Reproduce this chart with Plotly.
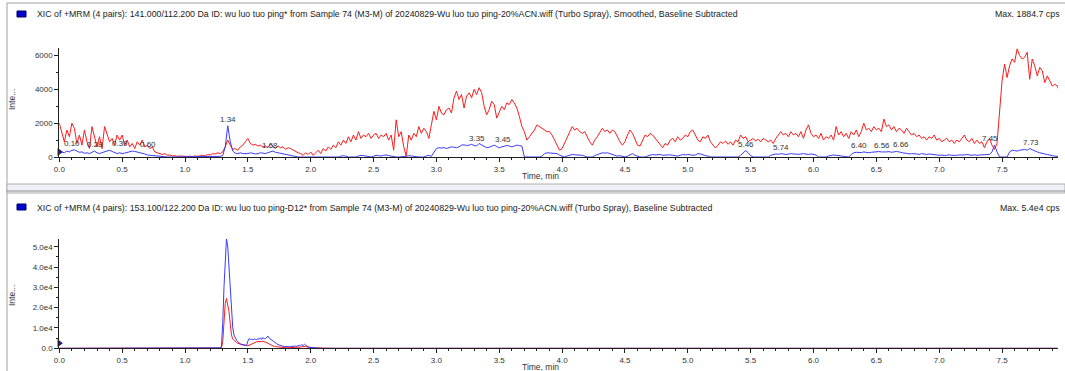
import plotly.graph_objects as go

W, H = 1065, 371

# ---------------- data: top panel (141.000/112.200), sampled every 0.02 min from 0.00 ----------------
STEP = 0.02
TOP_RED = [
    2000, 1500, 900, 1600, 1200, 2000, 1700, 800, 1300, 700, 1600, 900, 500, 1800, 1100, 600, 1200, 500, 1800, 1400, 900, 1100, 700, 1300, 1000,
    1300, 700, 1000, 600, 800, 500, 900, 700, 1000, 600, 700, 500, 600, 300, 250, 200, 150, 200, 100, 120, 60, 80, 40, 60, 30,
    40, 20, 50, 30, 60, 40, 80, 100, 60, 150, 120, 200, 180, 250, 200, 300, 600, 1000, 700, 450, 500, 400, 600, 700, 900,
    1100, 800, 700, 750, 650, 700, 600, 650, 550, 800, 600, 500, 650, 550, 600, 450, 550, 500, 400, 350, 250, 200, 100, 250, 150,
    300, 100, 250, 400, 200, 500, 350, 600, 450, 700, 550, 900, 700, 1000, 800, 1200, 900, 1300, 1000, 1500, 1100, 1300, 1200, 1400, 1100,
    1300, 1400, 1100, 1300, 1200, 1400, 1000, 1300, 400, 2200, 1200, 1500, 600, 50, 1300, 1000, 1400, 1200, 1800, 1400, 1700, 1500, 1100, 1900, 2700,
    2200, 3000, 2600, 2500, 2800, 2900, 2600, 3500, 3900, 3400, 3700, 2900, 3600, 3800, 3500, 4000, 3700, 4100, 3800, 3000, 2500, 2800, 3300, 3100, 2300,
    2700, 3000, 2800, 3200, 3100, 3400, 3200, 2900, 2400, 1800, 1500, 1000, 1200, 1400, 1600, 1900, 1800, 1700, 1600, 1500, 1500, 1300, 1000, 700, 400,
    500, 800, 1200, 1500, 1800, 1600, 1700, 1500, 1400, 1500, 1200, 900, 700, 1000, 1200, 1500, 1700, 1500, 1600, 1400, 1600, 1500, 1200, 900, 700,
    900, 1300, 1600, 1400, 1000, 700, 650, 1000, 1300, 1200, 1400, 1300, 1100, 900, 700, 550, 800, 700, 1000, 1100, 900, 1200, 1000, 1100, 1300,
    1200, 1500, 1600, 1300, 1000, 900, 1200, 1100, 1300, 900, 700, 530, 700, 900, 800, 950, 750, 900, 700, 1000, 900, 1300, 1100, 1200, 900,
    1000, 1100, 950, 1050, 900, 1100, 1000, 900, 1000, 800, 1100, 1300, 1500, 1300, 1400, 1200, 1500, 1300, 1400, 1200, 1500, 1100, 1600, 1900, 1400,
    1200, 1300, 1100, 1400, 1000, 1200, 1100, 1300, 1000, 1800, 1300, 1500, 1200, 1400, 1100, 1500, 1300, 1600, 1200, 1500, 2000, 1600, 1700, 1500, 1800,
    1600, 1700, 1500, 2250, 1800, 1900, 1600, 1800, 1500, 1700, 1600, 1400, 1700, 1500, 1300, 1400, 1200, 1300, 1100, 1200, 1000, 1200, 1100, 1300, 1000,
    1100, 900, 1000, 1100, 900, 1000, 800, 1000, 900, 1100, 1300, 1000, 900, 1100, 800, 1000, 800, 900, 550, 900, 1100, 700, 450, 800, 2700,
    4500, 5500, 4700, 5400, 5800, 5600, 6400, 6000, 5800, 5900, 6200, 4600, 5800, 5400, 4800, 5300, 5100, 4400, 4800, 4500, 4200, 4300, 4200, 3800,
]
TOP_BLUE = [
    450, 300, 250, 350, 300, 400, 420, 350, 280, 300, 220, 250, 200, 280, 350, 250, 200, 260, 300, 350, 400, 330, 250, 200, 250,
    200, 230, 280, 300, 350, 330, 300, 250, 200, 180, 120, 100, 80, 60, 40, 20, 10, 0, 0, 0, 0, 0, 0, 0, 0,
    0, 0, 0, 0, 0, 0, 0, 0, 0, 0, 0, 0, 0, 20, 40, 80, 600, 1850, 900, 350, 220, 200, 250, 200, 180,
    200, 250, 220, 180, 200, 250, 230, 200, 260, 300, 350, 280, 250, 200, 150, 120, 100, 60, 40, 20, 0, 0, 0, 0, 0,
    0, 0, 0, 0, 0, 0, 20, 40, 0, 0, 0, 0, 50, 80, 50, 0, 0, 0, 0, 60, 100, 80, 40, 0, 0,
    50, 100, 80, 60, 100, 120, 80, 40, 0, 0, 0, 0, 0, 40, 80, 60, 0, 0, 0, 0, 0, 60, 100, 40, 300,
    500, 550, 530, 560, 500, 550, 600, 580, 550, 600, 700, 720, 680, 700, 750, 680, 650, 800, 700, 600, 550, 580, 650, 700, 620,
    550, 600, 620, 680, 650, 600, 650, 700, 680, 650, 0, 0, 0, 0, 0, 0, 0, 50, 200, 250, 230, 250, 220, 200, 100,
    50, 0, 60, 100, 150, 130, 120, 150, 100, 50, 0, 0, 0, 80, 150, 200, 250, 230, 250, 200, 150, 100, 50, 80, 50,
    0, 50, 150, 200, 100, 50, 0, 0, 0, 60, 100, 150, 120, 130, 150, 100, 120, 150, 130, 100, 80, 50, 100, 150, 120,
    150, 130, 100, 120, 200, 180, 120, 80, 60, 0, 0, 0, 0, 0, 0, 20, 40, 0, 0, 0, 0, 100, 250, 380, 250,
    80, 0, 0, 0, 0, 0, 0, 0, 100, 150, 180, 160, 200, 180, 150, 170, 200, 180, 150, 160, 180, 200, 170, 150, 180,
    150, 120, 0, 0, 0, 0, 60, 100, 120, 100, 80, 60, 0, 0, 0, 150, 250, 280, 250, 260, 300, 280, 250, 280, 300,
    280, 320, 300, 280, 300, 320, 280, 300, 330, 300, 250, 230, 220, 180, 200, 200, 180, 150, 200, 180, 150, 180, 160, 100, 120,
    100, 120, 80, 100, 130, 100, 80, 100, 120, 100, 120, 150, 120, 100, 130, 100, 120, 130, 100, 120, 150, 300, 700, 300, 0,
    0, 0, 0, 300, 400, 380, 350, 400, 420, 450, 400, 500, 430, 350, 300, 250, 200, 180, 150, 100, 80, 50, 40, 30,
]
assert len(TOP_RED) == len(TOP_BLUE) == 399, (len(TOP_RED), len(TOP_BLUE))
TOP_TIME = [round(i * STEP, 2) for i in range(len(TOP_RED))]

TOP_PEAKS = [0.10, 0.28, 0.39, 0.60, 1.34, 1.68, 3.35, 3.45, 5.46, 5.74, 6.40, 6.56, 6.66, 7.45, 7.73]
TOP_PEAK_XSHIFT = [0, 0, 12, 13, 0, 0, -3, 10, 0, 0, -5, -2, 5, -6, 0]

# ---------------- data: bottom panel (153.100/122.200, D12), 0.01 min steps from 1.20 to 2.20 ----------------
BOT_BLUE_REGION = [
    0, 0, 0, 0, 0, 0, 0, 0,
    200, 1000, 12000, 30000, 46000, 54000, 50000, 40000, 28000, 16000, 10000, 6500,
    5000, 4000, 3200, 2600, 2200, 2000, 1800, 1500, 1600, 1400,
    3500, 4800, 4300, 4500, 4200, 4600, 4400, 4300, 4700, 4500,
    5200, 4300, 5300, 4600, 4800, 5500, 6000, 5000, 4500, 3800,
    3500, 3000, 2500, 2200, 1800, 1500, 1300, 1200, 1000, 900,
    800, 900, 700, 800, 900, 1000, 800, 900, 1100, 1000,
    1200, 1500, 1300, 1800, 1400, 2000, 1500, 1000, 700, 500,
    400, 300, 200, 300, 200, 100, 0, 0, 0, 0,
    0, 0, 0, 0, 0, 0, 0, 0, 0, 0, 0,
]
BOT_RED_REGION = [
    0, 0, 0, 0, 0, 0, 0, 0, 0, 200,
    3000, 12000, 22000, 24500, 22000, 18000, 12000, 6500, 4500, 3800,
    3300, 2800, 2500, 2200, 2000, 1800, 1600, 1500, 1400, 1300,
    1300, 1500, 1800, 2200, 2600, 2900, 3100, 3200, 3300, 3200,
    3400, 3300, 3500, 3300, 3100, 2800, 2500, 2100, 1700, 1400,
    1100, 900, 800, 700, 600, 500, 450, 400, 350, 300,
    300, 250, 250, 300, 250, 300, 350, 300, 400, 350,
    400, 500, 600, 800, 900, 1000, 900, 700, 500, 400,
    300, 250, 200, 250, 200, 300, 350, 300, 200, 100,
    50, 0, 0, 0, 0, 0, 0, 0, 0, 0, 0,
]
assert len(BOT_BLUE_REGION) == len(BOT_RED_REGION) == 101, (len(BOT_BLUE_REGION), len(BOT_RED_REGION))
BOT_TIME = [0.0] + [round(1.20 + 0.01 * i, 2) for i in range(len(BOT_BLUE_REGION))] + [7.94]
BOT_BLUE = [0] + BOT_BLUE_REGION + [0]
BOT_RED = [0] + BOT_RED_REGION + [0]
BOT_PEAKS = [1.34]

X_TICKS = [0.0, 0.5, 1.0, 1.5, 2.0, 2.5, 3.0, 3.5, 4.0, 4.5, 5.0, 5.5, 6.0, 6.5, 7.0, 7.5]
X_TICK_TEXT = ["%.1f" % v for v in X_TICKS]
TOP_Y_TICKS = [0, 2000, 4000, 6000]
BOT_Y_TICKS = [0, 10000, 20000, 30000, 40000, 50000]
BOT_Y_TICK_TEXT = ["0.0", "1.0e4", "2.0e4", "3.0e4", "4.0e4", "5.0e4"]

TOP_TITLE = ("XIC of +MRM (4 pairs): 141.000/112.200 Da ID: wu luo tuo ping* from Sample 74 (M3-M) of "
             "20240829-Wu luo tuo ping-20%ACN.wiff (Turbo Spray), Smoothed, Baseline Subtracted")
BOT_TITLE = ("XIC of +MRM (4 pairs): 153.100/122.200 Da ID: wu luo tuo ping-D12* from Sample 74 (M3-M) of "
             "20240829-Wu luo tuo ping-20%ACN.wiff (Turbo Spray), Baseline Subtracted")
TOP_MAX = "Max. 1884.7 cps"
BOT_MAX = "Max. 5.4e4 cps"

# ---------------- figure ----------------
FONT = "Liberation Sans, Arial, sans-serif"
RED = "#ff1a1a"
BLUE = "#3b3bff"


def px(xp):
    return xp / W


def py(yp):
    return 1 - yp / H


fig = go.Figure()
fig.add_trace(go.Scatter(x=TOP_TIME, y=TOP_RED, mode="lines", line=dict(color=RED, width=1),
                         xaxis="x", yaxis="y", hoverinfo="skip"))
fig.add_trace(go.Scatter(x=TOP_TIME, y=TOP_BLUE, mode="lines", line=dict(color=BLUE, width=1),
                         xaxis="x", yaxis="y", hoverinfo="skip"))
fig.add_trace(go.Scatter(x=BOT_TIME, y=BOT_RED, mode="lines", line=dict(color=RED, width=1),
                         xaxis="x2", yaxis="y2", hoverinfo="skip"))
fig.add_trace(go.Scatter(x=BOT_TIME, y=BOT_BLUE, mode="lines", line=dict(color=BLUE, width=1),
                         xaxis="x2", yaxis="y2", hoverinfo="skip"))
# cursor triangles at t = 0
fig.add_trace(go.Scatter(x=[0.0], y=[300], mode="markers", xaxis="x", yaxis="y",
                         marker=dict(symbol="triangle-right", size=7, color="#1a1aa0"), cliponaxis=False))
fig.add_trace(go.Scatter(x=[0.0], y=[2500], mode="markers", xaxis="x2", yaxis="y2",
                         marker=dict(symbol="triangle-right", size=7, color="#1a1aa0"), cliponaxis=False))

annotations = []
for t, dx in zip(TOP_PEAKS, TOP_PEAK_XSHIFT):
    idx = int(round(t / STEP))
    annotations.append(dict(x=t, y=TOP_BLUE[idx], xref="x", yref="y", text="%.2f" % t, showarrow=False,
                            yanchor="bottom", xshift=dx, yshift=0,
                            font=dict(family=FONT, size=8, color="#333333")))
for t in BOT_PEAKS:
    i = BOT_TIME.index(t)
    annotations.append(dict(x=t, y=max(BOT_BLUE[i - 1:i + 2]), xref="x2", yref="y2", text="%.2f" % t,
                            showarrow=False, yanchor="bottom", yshift=1,
                            font=dict(family=FONT, size=8, color="#333333")))

hdr_font = dict(family=FONT, size=8.8, color="#222222")
lbl_font = dict(family=FONT, size=8.5, color="#333333")
annotations += [
    dict(x=px(35), y=py(14), xref="paper", yref="paper", text=TOP_TITLE, showarrow=False,
         xanchor="left", yanchor="middle", font=hdr_font),
    dict(x=px(1062), y=py(14), xref="paper", yref="paper", text=TOP_MAX, showarrow=False,
         xanchor="right", yanchor="middle", font=hdr_font),
    dict(x=px(35), y=py(208), xref="paper", yref="paper", text=BOT_TITLE, showarrow=False,
         xanchor="left", yanchor="middle", font=hdr_font),
    dict(x=px(1062), y=py(208), xref="paper", yref="paper", text=BOT_MAX, showarrow=False,
         xanchor="right", yanchor="middle", font=hdr_font),
    dict(x=px(540), y=py(176), xref="paper", yref="paper", text="Time, min", showarrow=False,
         xanchor="center", yanchor="middle", font=lbl_font),
    dict(x=px(540), y=py(367), xref="paper", yref="paper", text="Time, min", showarrow=False,
         xanchor="center", yanchor="middle", font=lbl_font),
    dict(x=px(12), y=py(100), xref="paper", yref="paper", text="Inte...", showarrow=False, textangle=-90,
         xanchor="center", yanchor="middle", font=lbl_font),
    dict(x=px(12), y=py(296), xref="paper", yref="paper", text="Inte...", showarrow=False, textangle=-90,
         xanchor="center", yanchor="middle", font=lbl_font),
]

shapes = [
    # window frame lines
    dict(type="line", xref="paper", yref="paper", x0=px(7), x1=1, y0=py(3), y1=py(3),
         line=dict(color="#a0a0a0", width=1)),
    dict(type="line", xref="paper", yref="paper", x0=px(7), x1=px(7), y0=py(3), y1=0,
         line=dict(color="#a0a0a0", width=1)),
    # separator between panes
    dict(type="rect", xref="paper", yref="paper", x0=px(7), x1=1, y0=py(193), y1=py(184),
         fillcolor="#eef1f5", line=dict(color="#b0b0b0", width=1)),
    dict(type="line", xref="paper", yref="paper", x0=px(7), x1=1, y0=py(191), y1=py(191),
         line=dict(color="#8c8c8c", width=1)),
    # colour swatches
    dict(type="rect", xref="paper", yref="paper", x0=px(17), x1=px(26), y0=py(17), y1=py(11),
         fillcolor="#0000d0", line=dict(color="#000060", width=1)),
    dict(type="rect", xref="paper", yref="paper", x0=px(17), x1=px(26), y0=py(210), y1=py(204),
         fillcolor="#0000d0", line=dict(color="#000060", width=1)),
]

axis_common = dict(showgrid=False, zeroline=False, showline=True, linecolor="#202020", linewidth=1,
                   ticks="outside", ticklen=4, tickcolor="#202020", automargin=False,
                   tickfont=dict(family=FONT, size=8, color="#333333"))
x_left, x_right = 59.3, 1058
x_max = (x_right - x_left) / 125.7

fig.update_layout(
    width=W, height=H, margin=dict(l=0, r=0, t=0, b=0, autoexpand=False),
    paper_bgcolor="white", plot_bgcolor="white", showlegend=False,
    xaxis=dict(domain=[px(x_left), px(x_right)], range=[0, x_max], anchor="y",
               tickvals=X_TICKS, ticktext=X_TICK_TEXT,
               minor=dict(dtick=0.1, tick0=0, ticklen=2, ticks="outside", tickcolor="#202020"),
               **axis_common),
    yaxis=dict(domain=[py(157), py(48)], range=[0, 6450], anchor="x",
               tickvals=TOP_Y_TICKS, ticktext=[str(v) for v in TOP_Y_TICKS],
               minor=dict(dtick=1000, tick0=0, ticklen=2, ticks="outside", tickcolor="#202020"),
               **axis_common),
    xaxis2=dict(domain=[px(x_left), px(x_right)], range=[0, x_max], anchor="y2",
                tickvals=X_TICKS, ticktext=X_TICK_TEXT,
                minor=dict(dtick=0.1, tick0=0, ticklen=2, ticks="outside", tickcolor="#202020"),
                **axis_common),
    yaxis2=dict(domain=[py(348.3), py(239)], range=[0, 53800], anchor="x2",
                tickvals=BOT_Y_TICKS, ticktext=BOT_Y_TICK_TEXT,
                minor=dict(dtick=5000, tick0=0, ticklen=2, ticks="outside", tickcolor="#202020"),
                **axis_common),
    annotations=annotations,
    shapes=shapes,
)

fig.write_html("out.html")
